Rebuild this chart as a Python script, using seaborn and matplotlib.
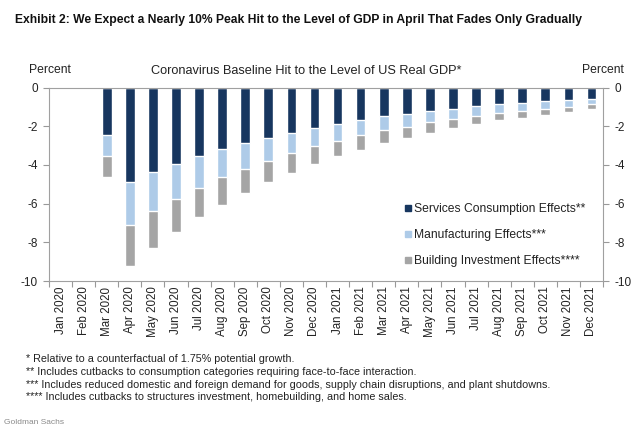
import numpy as np
import pandas as pd
import matplotlib
matplotlib.use("Agg")
import matplotlib.pyplot as plt
from matplotlib.lines import Line2D
import seaborn as sns

months = ["Jan 2020", "Feb 2020", "Mar 2020", "Apr 2020", "May 2020", "Jun 2020",
          "Jul 2020", "Aug 2020", "Sep 2020", "Oct 2020", "Nov 2020", "Dec 2020",
          "Jan 2021", "Feb 2021", "Mar 2021", "Apr 2021", "May 2021", "Jun 2021",
          "Jul 2021", "Aug 2021", "Sep 2021", "Oct 2021", "Nov 2021", "Dec 2021"]
services = [0.00, -0.02, -2.43, -4.86, -4.39, -3.94, -3.56, -3.19, -2.87, -2.60, -2.33, -2.10,
            -1.88, -1.68, -1.49, -1.36, -1.23, -1.10, -0.97, -0.87, -0.78, -0.71, -0.66, -0.59]
manufacturing = [0.00, 0.00, -1.11, -2.26, -2.00, -1.84, -1.61, -1.46, -1.33, -1.19, -1.04, -0.94,
                 -0.86, -0.80, -0.70, -0.66, -0.56, -0.52, -0.51, -0.45, -0.44, -0.39, -0.35, -0.28]
building = [0.00, 0.00, -1.08, -2.10, -1.91, -1.70, -1.53, -1.41, -1.23, -1.11, -1.04, -0.92,
            -0.82, -0.73, -0.69, -0.58, -0.55, -0.48, -0.42, -0.38, -0.34, -0.31, -0.26, -0.26]
series_names = ["Services Consumption Effects**", "Manufacturing Effects***",
                "Building Investment Effects****"]
colors = ["#17365f", "#aecbe8", "#a5a5a5"]

footnotes = ["* Relative to a counterfactual of 1.75% potential growth.",
             "** Includes cutbacks to consumption categories requiring face-to-face interaction.",
             "*** Includes reduced domestic and foreign demand for goods, supply chain disruptions, and plant shutdowns.",
             "**** Includes cutbacks to structures investment, homebuilding, and home sales."]

sns.set_theme(style="white")
plt.rcParams['font.family'] = ['Liberation Sans', 'DejaVu Sans']

s = np.array(services)
m = np.array(manufacturing)
b = np.array(building)
df = pd.DataFrame({"month": months,
                   "c1": s,
                   "c2": s + m,
                   "c3": s + m + b})

fig = plt.figure(figsize=(6.4, 4.42), dpi=100)
ax = fig.add_axes([49/640, 1 - 281/442, (603 - 49)/640, (281 - 87.5)/442])

for col, c in zip(["c3", "c2", "c1"], colors[::-1]):
    sns.barplot(data=df, x="month", y=col, color=c, width=0.42, ax=ax,
                saturation=1, order=months)

ax.set_xlim(-0.5, len(months) - 0.5)
ax.set_ylim(-10, 0)
ax.set_yticks([0, -2, -4, -6, -8, -10])
ax.set_yticklabels(["0", "-2", "-4", "-6", "-8", "-10"])
ax.set_xlabel("")
ax.set_ylabel("")
ax.set_xticks(range(len(months)))
ax.set_xticklabels(months, rotation=90, fontsize=8.3, color="#222222")
ax.set_xticks(np.arange(-0.5, len(months), 1), minor=True)
ax.tick_params(axis="x", which="major", length=0, pad=4)
ax.tick_params(axis="x", which="minor", length=4, width=0.8, color="#999999", bottom=True)
ax.tick_params(axis="y", left=True, right=True, labelleft=True, labelright=True,
               length=4, width=0.8, color="#999999", labelsize=8.5, labelcolor="#222222", pad=4)
for sp in ax.spines.values():
    sp.set_visible(True)
    sp.set_color("#a0a0a0")
    sp.set_linewidth(0.8)
ax.grid(False)

fig.text(50/640, 1 - 70/442, "Percent", ha="center", va="center", fontsize=8.7, color="#222222")
fig.text(603/640, 1 - 70/442, "Percent", ha="center", va="center", fontsize=8.7, color="#222222")
fig.text(306/640, 1 - 71/442, "Coronavirus Baseline Hit to the Level of US Real GDP*",
         ha="center", va="center", fontsize=9.2, color="#222222")

fig.text(15/640, 1 - 20.5/442,
         "Exhibit 2: We Expect a Nearly 10% Peak Hit to the Level of GDP in April That Fades Only Gradually",
         ha="left", va="center", fontsize=8.7, fontweight="bold", color="#111111")

handles = [Line2D([0], [0], marker="s", linestyle="none", markersize=5,
                  markerfacecolor=c, markeredgecolor=c) for c in colors]
leg = ax.legend(handles, series_names, loc="upper left",
                bbox_to_anchor=(396/640, 1 - 197/442), bbox_transform=fig.transFigure,
                frameon=False, fontsize=8.7, labelspacing=1.15, handletextpad=0.0,
                handlelength=1.0, borderpad=0)
for t in leg.get_texts():
    t.set_color("#222222")

for i, line in enumerate(footnotes):
    fig.text(26/640, 1 - (359.5 + i * 12.6)/442, line, ha="left", va="center",
             fontsize=7.75, color="#222222")

fig.text(4/640, 1 - 422/442, "Goldman Sachs", ha="left", va="center", fontsize=6.0,
         color="#8a8a8a")

fig.savefig("out.png", dpi=100)
